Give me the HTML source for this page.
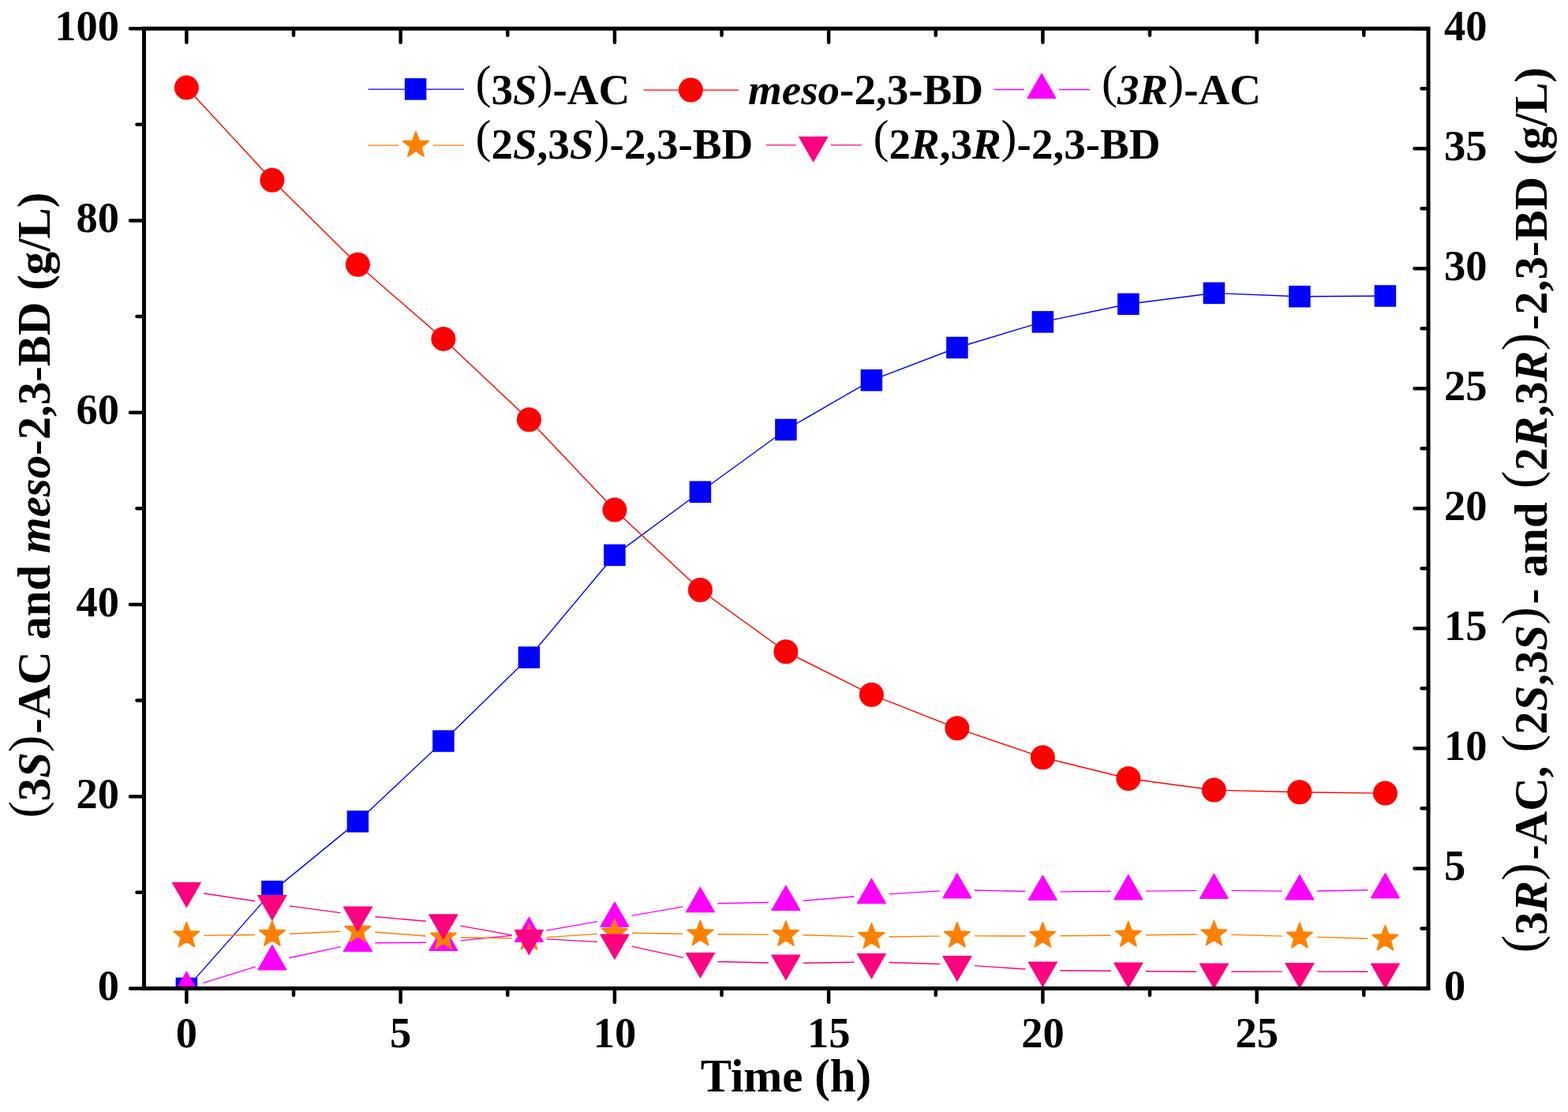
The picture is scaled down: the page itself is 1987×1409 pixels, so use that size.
<!DOCTYPE html>
<html><head><meta charset="utf-8"><title>Chart</title><style>
html,body{margin:0;padding:0;background:#fff;}
svg{display:block;}
text{font-family:"Liberation Serif","Times New Roman",serif;font-weight:bold;fill:#000;}
</style></head><body>
<svg width="1987" height="1409" viewBox="0 0 1987 1409">
<defs><clipPath id="pc"><rect x="182.5" y="36.2" width="1627.5" height="1216.2"/></clipPath></defs>
<rect width="1987" height="1409" fill="#fff"/>
<g clip-path="url(#pc)"><path d="M236.4 1252.4L344.9 1129.6M344.9 1129.6L453.4 1040.9M453.4 1040.9L561.9 939M561.9 939L670.4 833M670.4 833L778.9 703.4M778.9 703.4L887.4 623.3M887.4 623.3L995.9 544.5M995.9 544.5L1104.4 481.8M1104.4 481.8L1212.9 440.5M1212.9 440.5L1321.4 407.9M1321.4 407.9L1429.9 385.3M1429.9 385.3L1538.4 371.4M1538.4 371.4L1646.9 375.7M1646.9 375.7L1755.4 375" stroke="#0000FF" stroke-width="1.4" fill="none"/><rect x="222.65" y="1238.65" width="27.5" height="27.5" fill="#0000FF"/><rect x="331.15" y="1115.85" width="27.5" height="27.5" fill="#0000FF"/><rect x="439.65" y="1027.15" width="27.5" height="27.5" fill="#0000FF"/><rect x="548.15" y="925.25" width="27.5" height="27.5" fill="#0000FF"/><rect x="656.65" y="819.25" width="27.5" height="27.5" fill="#0000FF"/><rect x="765.15" y="689.65" width="27.5" height="27.5" fill="#0000FF"/><rect x="873.65" y="609.55" width="27.5" height="27.5" fill="#0000FF"/><rect x="982.15" y="530.75" width="27.5" height="27.5" fill="#0000FF"/><rect x="1090.65" y="468.05" width="27.5" height="27.5" fill="#0000FF"/><rect x="1199.15" y="426.75" width="27.5" height="27.5" fill="#0000FF"/><rect x="1307.65" y="394.15" width="27.5" height="27.5" fill="#0000FF"/><rect x="1416.15" y="371.55" width="27.5" height="27.5" fill="#0000FF"/><rect x="1524.65" y="357.65" width="27.5" height="27.5" fill="#0000FF"/><rect x="1633.15" y="361.95" width="27.5" height="27.5" fill="#0000FF"/><rect x="1741.65" y="361.25" width="27.5" height="27.5" fill="#0000FF"/><path d="M236.4 111.1L344.9 228.2M344.9 228.2L453.4 335.3M453.4 335.3L561.9 429.4M561.9 429.4L670.4 531.8M670.4 531.8L778.9 646.1M778.9 646.1L887.4 747.5M887.4 747.5L995.9 825.8M995.9 825.8L1104.4 880.2M1104.4 880.2L1212.9 922.8M1212.9 922.8L1321.4 959.8M1321.4 959.8L1429.9 986.5M1429.9 986.5L1538.4 1001.1M1538.4 1001.1L1646.9 1003.7M1646.9 1003.7L1755.4 1005.1" stroke="#FF0000" stroke-width="1.4" fill="none"/><circle cx="236.4" cy="111.1" r="15.5" fill="#FF0000"/><circle cx="344.9" cy="228.2" r="15.5" fill="#FF0000"/><circle cx="453.4" cy="335.3" r="15.5" fill="#FF0000"/><circle cx="561.9" cy="429.4" r="15.5" fill="#FF0000"/><circle cx="670.4" cy="531.8" r="15.5" fill="#FF0000"/><circle cx="778.9" cy="646.1" r="15.5" fill="#FF0000"/><circle cx="887.4" cy="747.5" r="15.5" fill="#FF0000"/><circle cx="995.9" cy="825.8" r="15.5" fill="#FF0000"/><circle cx="1104.4" cy="880.2" r="15.5" fill="#FF0000"/><circle cx="1212.9" cy="922.8" r="15.5" fill="#FF0000"/><circle cx="1321.4" cy="959.8" r="15.5" fill="#FF0000"/><circle cx="1429.9" cy="986.5" r="15.5" fill="#FF0000"/><circle cx="1538.4" cy="1001.1" r="15.5" fill="#FF0000"/><circle cx="1646.9" cy="1003.7" r="15.5" fill="#FF0000"/><circle cx="1755.4" cy="1005.1" r="15.5" fill="#FF0000"/><path d="M257.4 1245.66L323.9 1224.94M366.4 1213.74L431.9 1199.56M475.4 1194.74L539.9 1194.26M583.79 1191.86L648.51 1185.24M692.06 1179.17L757.24 1167.63M800.58 1160.08L865.72 1148.92M909.4 1144.75L973.9 1143.45M1017.83 1141.22L1082.47 1135.98M1126.36 1132.84L1190.94 1128.86M1234.89 1128.01L1299.41 1129.49M1343.4 1129.88L1407.9 1129.52M1451.9 1129.14L1516.4 1128.36M1560.4 1128.36L1624.9 1129.14M1668.9 1128.99L1733.4 1127.81" stroke="#FF00FF" stroke-width="1.4" fill="none"/><polygon points="236.4,1231.42 254.4,1262.59 218.4,1262.59" fill="#FF00FF" stroke="#FF00FF" stroke-width="1.2" stroke-linejoin="round"/><polygon points="344.9,1197.62 362.9,1228.79 326.9,1228.79" fill="#FF00FF" stroke="#FF00FF" stroke-width="1.2" stroke-linejoin="round"/><polygon points="453.4,1174.12 471.4,1205.29 435.4,1205.29" fill="#FF00FF" stroke="#FF00FF" stroke-width="1.2" stroke-linejoin="round"/><polygon points="561.9,1173.32 579.9,1204.49 543.9,1204.49" fill="#FF00FF" stroke="#FF00FF" stroke-width="1.2" stroke-linejoin="round"/><polygon points="670.4,1162.22 688.4,1193.39 652.4,1193.39" fill="#FF00FF" stroke="#FF00FF" stroke-width="1.2" stroke-linejoin="round"/><polygon points="778.9,1143.02 796.9,1174.19 760.9,1174.19" fill="#FF00FF" stroke="#FF00FF" stroke-width="1.2" stroke-linejoin="round"/><polygon points="887.4,1124.42 905.4,1155.59 869.4,1155.59" fill="#FF00FF" stroke="#FF00FF" stroke-width="1.2" stroke-linejoin="round"/><polygon points="995.9,1122.22 1013.9,1153.39 977.9,1153.39" fill="#FF00FF" stroke="#FF00FF" stroke-width="1.2" stroke-linejoin="round"/><polygon points="1104.4,1113.42 1122.4,1144.59 1086.4,1144.59" fill="#FF00FF" stroke="#FF00FF" stroke-width="1.2" stroke-linejoin="round"/><polygon points="1212.9,1106.72 1230.9,1137.89 1194.9,1137.89" fill="#FF00FF" stroke="#FF00FF" stroke-width="1.2" stroke-linejoin="round"/><polygon points="1321.4,1109.22 1339.4,1140.39 1303.4,1140.39" fill="#FF00FF" stroke="#FF00FF" stroke-width="1.2" stroke-linejoin="round"/><polygon points="1429.9,1108.62 1447.9,1139.79 1411.9,1139.79" fill="#FF00FF" stroke="#FF00FF" stroke-width="1.2" stroke-linejoin="round"/><polygon points="1538.4,1107.32 1556.4,1138.49 1520.4,1138.49" fill="#FF00FF" stroke="#FF00FF" stroke-width="1.2" stroke-linejoin="round"/><polygon points="1646.9,1108.62 1664.9,1139.79 1628.9,1139.79" fill="#FF00FF" stroke="#FF00FF" stroke-width="1.2" stroke-linejoin="round"/><polygon points="1755.4,1106.62 1773.4,1137.79 1737.4,1137.79" fill="#FF00FF" stroke="#FF00FF" stroke-width="1.2" stroke-linejoin="round"/><path d="M258.4 1185.4L322.9 1184.5M366.88 1183.19L431.42 1180.21M475.33 1180.94L539.97 1186.06M583.9 1188.04L648.4 1188.76M692.35 1187.58L756.95 1183.42M800.9 1182.32L865.4 1183.28M909.4 1183.72L973.9 1184.08M1017.89 1184.81L1082.41 1186.59M1126.4 1186.94L1190.9 1186.16M1234.9 1185.92L1299.4 1185.98M1343.4 1185.8L1407.9 1185.2M1451.9 1184.74L1516.4 1183.96M1560.39 1184.33L1624.91 1186.17M1668.89 1187.41L1733.41 1189.19" stroke="#FF8000" stroke-width="1.4" fill="none"/><polygon points="236.4,1168.5 240.69,1179.79 252.76,1180.38 243.34,1187.96 246.51,1199.62 236.4,1193 226.29,1199.62 229.46,1187.96 220.04,1180.38 232.11,1179.79" fill="#FF8000" stroke="#FF8000" stroke-width="1.6" stroke-linejoin="round"/><polygon points="344.9,1167 349.19,1178.29 361.26,1178.88 351.84,1186.46 355.01,1198.12 344.9,1191.5 334.79,1198.12 337.96,1186.46 328.54,1178.88 340.61,1178.29" fill="#FF8000" stroke="#FF8000" stroke-width="1.6" stroke-linejoin="round"/><polygon points="453.4,1162 457.69,1173.29 469.76,1173.88 460.34,1181.46 463.51,1193.12 453.4,1186.5 443.29,1193.12 446.46,1181.46 437.04,1173.88 449.11,1173.29" fill="#FF8000" stroke="#FF8000" stroke-width="1.6" stroke-linejoin="round"/><polygon points="561.9,1170.6 566.19,1181.89 578.26,1182.48 568.84,1190.06 572.01,1201.72 561.9,1195.1 551.79,1201.72 554.96,1190.06 545.54,1182.48 557.61,1181.89" fill="#FF8000" stroke="#FF8000" stroke-width="1.6" stroke-linejoin="round"/><polygon points="670.4,1171.8 674.69,1183.09 686.76,1183.68 677.34,1191.26 680.51,1202.92 670.4,1196.3 660.29,1202.92 663.46,1191.26 654.04,1183.68 666.11,1183.09" fill="#FF8000" stroke="#FF8000" stroke-width="1.6" stroke-linejoin="round"/><polygon points="778.9,1164.8 783.19,1176.09 795.26,1176.68 785.84,1184.26 789.01,1195.92 778.9,1189.3 768.79,1195.92 771.96,1184.26 762.54,1176.68 774.61,1176.09" fill="#FF8000" stroke="#FF8000" stroke-width="1.6" stroke-linejoin="round"/><polygon points="887.4,1166.4 891.69,1177.69 903.76,1178.28 894.34,1185.86 897.51,1197.52 887.4,1190.9 877.29,1197.52 880.46,1185.86 871.04,1178.28 883.11,1177.69" fill="#FF8000" stroke="#FF8000" stroke-width="1.6" stroke-linejoin="round"/><polygon points="995.9,1167 1000.19,1178.29 1012.26,1178.88 1002.84,1186.46 1006.01,1198.12 995.9,1191.5 985.79,1198.12 988.96,1186.46 979.54,1178.88 991.61,1178.29" fill="#FF8000" stroke="#FF8000" stroke-width="1.6" stroke-linejoin="round"/><polygon points="1104.4,1170 1108.69,1181.29 1120.76,1181.88 1111.34,1189.46 1114.51,1201.12 1104.4,1194.5 1094.29,1201.12 1097.46,1189.46 1088.04,1181.88 1100.11,1181.29" fill="#FF8000" stroke="#FF8000" stroke-width="1.6" stroke-linejoin="round"/><polygon points="1212.9,1168.7 1217.19,1179.99 1229.26,1180.58 1219.84,1188.16 1223.01,1199.82 1212.9,1193.2 1202.79,1199.82 1205.96,1188.16 1196.54,1180.58 1208.61,1179.99" fill="#FF8000" stroke="#FF8000" stroke-width="1.6" stroke-linejoin="round"/><polygon points="1321.4,1168.8 1325.69,1180.09 1337.76,1180.68 1328.34,1188.26 1331.51,1199.92 1321.4,1193.3 1311.29,1199.92 1314.46,1188.26 1305.04,1180.68 1317.11,1180.09" fill="#FF8000" stroke="#FF8000" stroke-width="1.6" stroke-linejoin="round"/><polygon points="1429.9,1167.8 1434.19,1179.09 1446.26,1179.68 1436.84,1187.26 1440.01,1198.92 1429.9,1192.3 1419.79,1198.92 1422.96,1187.26 1413.54,1179.68 1425.61,1179.09" fill="#FF8000" stroke="#FF8000" stroke-width="1.6" stroke-linejoin="round"/><polygon points="1538.4,1166.5 1542.69,1177.79 1554.76,1178.38 1545.34,1185.96 1548.51,1197.62 1538.4,1191 1528.29,1197.62 1531.46,1185.96 1522.04,1178.38 1534.11,1177.79" fill="#FF8000" stroke="#FF8000" stroke-width="1.6" stroke-linejoin="round"/><polygon points="1646.9,1169.6 1651.19,1180.89 1663.26,1181.48 1653.84,1189.06 1657.01,1200.72 1646.9,1194.1 1636.79,1200.72 1639.96,1189.06 1630.54,1181.48 1642.61,1180.89" fill="#FF8000" stroke="#FF8000" stroke-width="1.6" stroke-linejoin="round"/><polygon points="1755.4,1172.6 1759.69,1183.89 1771.76,1184.48 1762.34,1192.06 1765.51,1203.72 1755.4,1197.1 1745.29,1203.72 1748.46,1192.06 1739.04,1184.48 1751.11,1183.89" fill="#FF8000" stroke="#FF8000" stroke-width="1.6" stroke-linejoin="round"/><path d="M258.16 1131.97L323.14 1141.73M366.71 1147.91L431.59 1156.59M475.31 1161.48L539.99 1167.32M583.56 1173.17L648.74 1184.83M692.37 1189.87L756.93 1193.33M800.4 1199.16L865.9 1213.34M909.39 1218.53L973.91 1220.07M1017.9 1220.26L1082.4 1219.24M1126.39 1219.55L1190.91 1221.45M1234.85 1223.6L1299.45 1228M1343.4 1229.7L1407.9 1230.3M1451.9 1230.68L1516.4 1231.22M1560.4 1231.32L1624.9 1231.08M1668.9 1231.08L1733.4 1231.32" stroke="#FF0080" stroke-width="1.4" fill="none"/><polygon points="236.4,1149.48 254.4,1118.31 218.4,1118.31" fill="#FF0080" stroke="#FF0080" stroke-width="1.2" stroke-linejoin="round"/><polygon points="344.9,1165.78 362.9,1134.61 326.9,1134.61" fill="#FF0080" stroke="#FF0080" stroke-width="1.2" stroke-linejoin="round"/><polygon points="453.4,1180.28 471.4,1149.11 435.4,1149.11" fill="#FF0080" stroke="#FF0080" stroke-width="1.2" stroke-linejoin="round"/><polygon points="561.9,1190.08 579.9,1158.91 543.9,1158.91" fill="#FF0080" stroke="#FF0080" stroke-width="1.2" stroke-linejoin="round"/><polygon points="670.4,1209.48 688.4,1178.31 652.4,1178.31" fill="#FF0080" stroke="#FF0080" stroke-width="1.2" stroke-linejoin="round"/><polygon points="778.9,1215.28 796.9,1184.11 760.9,1184.11" fill="#FF0080" stroke="#FF0080" stroke-width="1.2" stroke-linejoin="round"/><polygon points="887.4,1238.78 905.4,1207.61 869.4,1207.61" fill="#FF0080" stroke="#FF0080" stroke-width="1.2" stroke-linejoin="round"/><polygon points="995.9,1241.38 1013.9,1210.21 977.9,1210.21" fill="#FF0080" stroke="#FF0080" stroke-width="1.2" stroke-linejoin="round"/><polygon points="1104.4,1239.68 1122.4,1208.51 1086.4,1208.51" fill="#FF0080" stroke="#FF0080" stroke-width="1.2" stroke-linejoin="round"/><polygon points="1212.9,1242.88 1230.9,1211.71 1194.9,1211.71" fill="#FF0080" stroke="#FF0080" stroke-width="1.2" stroke-linejoin="round"/><polygon points="1321.4,1250.28 1339.4,1219.11 1303.4,1219.11" fill="#FF0080" stroke="#FF0080" stroke-width="1.2" stroke-linejoin="round"/><polygon points="1429.9,1251.28 1447.9,1220.11 1411.9,1220.11" fill="#FF0080" stroke="#FF0080" stroke-width="1.2" stroke-linejoin="round"/><polygon points="1538.4,1252.18 1556.4,1221.01 1520.4,1221.01" fill="#FF0080" stroke="#FF0080" stroke-width="1.2" stroke-linejoin="round"/><polygon points="1646.9,1251.78 1664.9,1220.61 1628.9,1220.61" fill="#FF0080" stroke="#FF0080" stroke-width="1.2" stroke-linejoin="round"/><polygon points="1755.4,1252.18 1773.4,1221.01 1737.4,1221.01" fill="#FF0080" stroke="#FF0080" stroke-width="1.2" stroke-linejoin="round"/></g>
<rect x="182.5" y="36.2" width="1627.5" height="1216.2" fill="none" stroke="#000" stroke-width="5"/><path d="M182.5 1252.4H165M182.5 1130.78H173.5M182.5 1009.16H165M182.5 887.54H173.5M182.5 765.92H165M182.5 644.3H173.5M182.5 522.68H165M182.5 401.06H173.5M182.5 279.44H165M182.5 157.82H173.5M182.5 36.2H165M1810 1252.4H1792.5M1810 1176.39H1801.5M1810 1100.38H1792.5M1810 1024.36H1801.5M1810 948.35H1792.5M1810 872.34H1801.5M1810 796.33H1792.5M1810 720.31H1801.5M1810 644.3H1792.5M1810 568.29H1801.5M1810 492.28H1792.5M1810 416.26H1801.5M1810 340.25H1792.5M1810 264.24H1801.5M1810 188.23H1792.5M1810 112.21H1801.5M1810 36.2H1792.5M236.4 1252.4V1269.9M236.4 36.2V53.7M372.02 1252.4V1260.9M372.02 36.2V44.7M507.65 1252.4V1269.9M507.65 36.2V53.7M643.27 1252.4V1260.9M643.27 36.2V44.7M778.9 1252.4V1269.9M778.9 36.2V53.7M914.52 1252.4V1260.9M914.52 36.2V44.7M1050.15 1252.4V1269.9M1050.15 36.2V53.7M1185.78 1252.4V1260.9M1185.78 36.2V44.7M1321.4 1252.4V1269.9M1321.4 36.2V53.7M1457.03 1252.4V1260.9M1457.03 36.2V44.7M1592.65 1252.4V1269.9M1592.65 36.2V53.7M1728.28 1252.4V1260.9M1728.28 36.2V44.7" stroke="#000" stroke-width="4.5" stroke-linecap="round" fill="none"/>
<path d="M466.7 113.1H588.1" stroke="#0000FF" stroke-width="1.4"/><rect x="512.85" y="99.15" width="27.5" height="27.5" fill="#0000FF"/><path d="M815.4 114.1H936.2" stroke="#FF0000" stroke-width="1.4"/><circle cx="875.4" cy="114" r="15.5" fill="#FF0000"/><path d="M1259.5 113.5H1298M1342 113.5H1381.1" stroke="#FF00FF" stroke-width="1.4"/><polygon points="1320,93.32 1338,124.49 1302,124.49" fill="#FF00FF" stroke="#FF00FF" stroke-width="1.2" stroke-linejoin="round"/><path d="M466.7 184.1H505M549 184.1H588.1" stroke="#FF8000" stroke-width="1.4"/><polygon points="527,166.9 531.29,178.19 543.36,178.78 533.94,186.36 537.11,198.02 527,191.4 516.89,198.02 520.06,186.36 510.64,178.78 522.71,178.19" fill="#FF8000" stroke="#FF8000" stroke-width="1.6" stroke-linejoin="round"/><path d="M970.6 183.9H1008.7M1052.7 183.9H1091.8" stroke="#FF0080" stroke-width="1.4"/><polygon points="1030.7,204.68 1048.7,173.51 1012.7,173.51" fill="#FF0080" stroke="#FF0080" stroke-width="1.2" stroke-linejoin="round"/>
<g class="t"><text x="151" y="1267" text-anchor="end" font-size="54.5">0</text><text x="151" y="1023.76" text-anchor="end" font-size="54.5">20</text><text x="151" y="780.52" text-anchor="end" font-size="54.5">40</text><text x="151" y="537.28" text-anchor="end" font-size="54.5">60</text><text x="151" y="294.04" text-anchor="end" font-size="54.5">80</text><text x="151" y="50.8" text-anchor="end" font-size="54.5">100</text><text x="1830" y="1267" font-size="54.5">0</text><text x="1830" y="1114.97" font-size="54.5">5</text><text x="1830" y="962.95" font-size="54.5">10</text><text x="1830" y="810.93" font-size="54.5">15</text><text x="1830" y="658.9" font-size="54.5">20</text><text x="1830" y="506.88" font-size="54.5">25</text><text x="1830" y="354.85" font-size="54.5">30</text><text x="1830" y="202.83" font-size="54.5">35</text><text x="1830" y="50.8" font-size="54.5">40</text><text x="236.4" y="1327" text-anchor="middle" font-size="54.5">0</text><text x="507.65" y="1327" text-anchor="middle" font-size="54.5">5</text><text x="778.9" y="1327" text-anchor="middle" font-size="54.5">10</text><text x="1050.15" y="1327" text-anchor="middle" font-size="54.5">15</text><text x="1321.4" y="1327" text-anchor="middle" font-size="54.5">20</text><text x="1592.65" y="1327" text-anchor="middle" font-size="54.5">25</text><text x="887.7" y="1382.5" font-size="58.9">Time (h)</text><text transform="translate(63.1,1036.5) rotate(-90)" font-size="58.8"><tspan font-weight="normal" font-size="64.09" dy="-8.53">(</tspan><tspan dy="8.53">3</tspan><tspan font-style="italic">S</tspan><tspan font-weight="normal" font-size="64.09" dy="-8.53">)</tspan><tspan dy="8.53" dx="2">-AC and </tspan><tspan font-style="italic">meso</tspan><tspan>-2,3-BD (g/L)</tspan></text><text transform="translate(1959.6,1207.5) rotate(-90)" font-size="58.8"><tspan font-weight="normal" font-size="68.38" dy="-9.11">(</tspan><tspan dy="9.11">3</tspan><tspan font-style="italic">R</tspan><tspan font-weight="normal" font-size="68.38" dy="-9.11">)</tspan><tspan dy="9.11" dx="3.5">-AC, </tspan><tspan font-weight="normal" font-size="68.38" dy="-9.11" dx="2.5">(</tspan><tspan dy="9.11">2</tspan><tspan font-style="italic">S</tspan><tspan>,3</tspan><tspan font-style="italic">S</tspan><tspan font-weight="normal" font-size="68.38" dy="-9.11">)</tspan><tspan dy="9.11" dx="3.5">- and </tspan><tspan font-weight="normal" font-size="68.38" dy="-9.11" dx="2.5">(</tspan><tspan dy="9.11">2</tspan><tspan font-style="italic">R</tspan><tspan>,3</tspan><tspan font-style="italic">R</tspan><tspan font-weight="normal" font-size="68.38" dy="-9.11">)</tspan><tspan dy="9.11" dx="3.5">-2,3-BD (g/L)</tspan></text><text x="602.5" y="132" font-size="55"><tspan font-weight="normal" font-size="59.95" dy="-7.97">(</tspan><tspan dy="7.97">3</tspan><tspan font-style="italic">S</tspan><tspan font-weight="normal" font-size="59.95" dy="-7.97">)</tspan><tspan dy="7.97">-AC</tspan></text><text x="948" y="132" font-size="55"><tspan font-style="italic">meso</tspan><tspan>-2,3-BD</tspan></text><text x="1396" y="132" font-size="55"><tspan font-weight="normal" font-size="59.95" dy="-7.97">(</tspan><tspan font-style="italic" dy="7.97">3R</tspan><tspan font-weight="normal" font-size="59.95" dy="-7.97">)</tspan><tspan dy="7.97">-AC</tspan></text><text x="602.5" y="201.2" font-size="55"><tspan font-weight="normal" font-size="59.95" dy="-7.97">(</tspan><tspan dy="7.97">2</tspan><tspan font-style="italic">S</tspan><tspan>,3</tspan><tspan font-style="italic">S</tspan><tspan font-weight="normal" font-size="59.95" dy="-7.97">)</tspan><tspan dy="7.97">-2,3-BD</tspan></text><text x="1106.5" y="201.2" font-size="55"><tspan font-weight="normal" font-size="59.95" dy="-7.97">(</tspan><tspan dy="7.97">2</tspan><tspan font-style="italic">R</tspan><tspan>,3</tspan><tspan font-style="italic">R</tspan><tspan font-weight="normal" font-size="59.95" dy="-7.97">)</tspan><tspan dy="7.97">-2,3-BD</tspan></text></g>
</svg></body></html>
